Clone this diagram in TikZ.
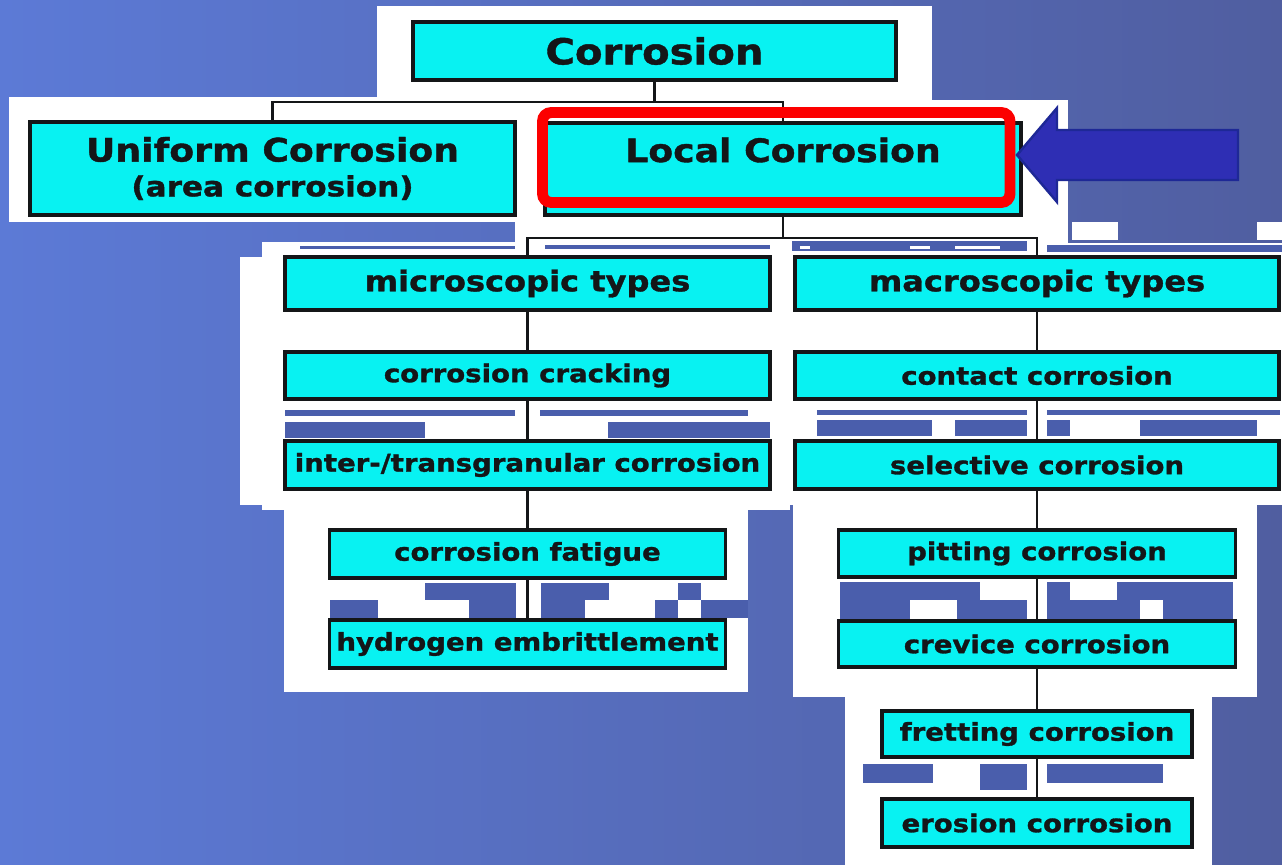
\documentclass[tikz,border=0pt]{standalone}
\usepackage{fontspec}
\newfontfamily\lbl{DejaVu Sans}[FakeStretch=1.12,FakeBold=1.2]
\definecolor{bgL}{RGB}{92,122,214}
\definecolor{bgR}{RGB}{80,94,160}
\definecolor{artc}{RGB}{74,94,172}
\definecolor{boxc}{RGB}{8,242,242}
\definecolor{ink}{RGB}{20,22,24}
\definecolor{arrf}{RGB}{46,46,180}
\definecolor{arrd}{RGB}{30,40,150}
\definecolor{redb}{RGB}{252,0,0}
\begin{document}
\begin{tikzpicture}[x=0.02cm,y=-0.02cm,
  cbox/.style={draw=ink, fill=boxc, line width=1.9pt, inner sep=0pt, text=ink,
    font=\lbl\bfseries\fontsize{14}{16}\selectfont},
  wh/.style 2 args={minimum width=#1*0.02cm, minimum height=#2*0.02cm},
  conn/.style={draw=ink, line width=1.4pt},
  wpanel/.style={fill=white},
  gap/.style={fill=artc}]
\useasboundingbox (0,0) rectangle (1282,865);
% background
\fill[left color=bgL, right color=bgR] (0,0) rectangle (1282,865);
% white panels behind the chart
\fill[wpanel] (377,6) rectangle (932,100);
\fill[wpanel] (9,97) rectangle (520,222);
\fill[wpanel] (515,100) rectangle (1068,250);
\fill[wpanel] (262,242) rectangle (790,510);
\fill[wpanel] (240,257) rectangle (300,505);
\fill[wpanel] (284,505) rectangle (748,692);
\fill[wpanel] (790,236) rectangle (1068,505);
\fill[wpanel] (1068,243) rectangle (1282,505);
\fill[wpanel] (1072,222) rectangle (1118,240);
\fill[wpanel] (1257,222) rectangle (1282,240);
\fill[wpanel] (793,505) rectangle (1257,697);
\fill[wpanel] (845,697) rectangle (1212,865);
% background showing through gaps
\fill[gap] (300,246) rectangle (515,249);
\fill[gap] (545,245) rectangle (770,249);
\fill[gap] (792,241) rectangle (1027,251);
\fill[gap] (1047,245) rectangle (1282,252);
\fill[wpanel] (800,246) rectangle (810,249);
\fill[wpanel] (910,246) rectangle (930,249);
\fill[wpanel] (955,246) rectangle (1000,249);
\fill[gap] (285,410) rectangle (515,416);
\fill[gap] (540,410) rectangle (748,416);
\fill[gap] (285,422) rectangle (425,438);
\fill[gap] (608,422) rectangle (770,438);
\fill[gap] (817,410) rectangle (1027,415);
\fill[gap] (1047,410) rectangle (1280,415);
\fill[gap] (817,420) rectangle (932,436);
\fill[gap] (955,420) rectangle (1027,436);
\fill[gap] (1047,420) rectangle (1070,436);
\fill[gap] (1140,420) rectangle (1257,436);
% fatigue / hydrogen gap
\fill[gap] (425,583) rectangle (516,600);
\fill[gap] (541,583) rectangle (609,600);
\fill[gap] (678,583) rectangle (701,600);
\fill[gap] (330,600) rectangle (378,618);
\fill[gap] (469,600) rectangle (516,618);
\fill[gap] (541,600) rectangle (585,618);
\fill[gap] (655,600) rectangle (678,618);
\fill[gap] (701,600) rectangle (748,618);
% pitting / crevice gap
\fill[gap] (840,582) rectangle (980,600);
\fill[gap] (1047,582) rectangle (1070,600);
\fill[gap] (1117,582) rectangle (1233,600);
\fill[gap] (840,600) rectangle (910,619);
\fill[gap] (957,600) rectangle (1027,619);
\fill[gap] (1047,600) rectangle (1140,619);
\fill[gap] (1163,600) rectangle (1233,619);
% fretting / erosion gap
\fill[gap] (863,764) rectangle (933,783);
\fill[gap] (980,764) rectangle (1027,790);
\fill[gap] (1047,764) rectangle (1163,783);

% boxes
\node[cbox, wh={483}{58}, font=\lbl\bfseries\fontsize{20.4}{22}\selectfont] (corr) at (654.5,51) {Corrosion};
\node[cbox, wh={485}{93}, align=center, font=\lbl\bfseries\fontsize{15.8}{19.8}\selectfont] (uni) at (272.5,168.5)
  {{\fontsize{18.4}{19.8}\selectfont Uniform Corrosion}\\(area corrosion)};
\node[cbox, wh={476}{92}, align=center, font=\lbl\bfseries\fontsize{15.8}{19.8}\selectfont] (loc) at (783,169)
  {{\fontsize{18.4}{19.8}\selectfont Local Corrosion}\\\phantom{(area corrosion)}};

\node[cbox, wh={485}{53}, font=\lbl\bfseries\fontsize{16.3}{18}\selectfont] (micro) at (527.5,283.5) {microscopic types};
\node[cbox, wh={485}{47}] (crack) at (527.5,375.5) {corrosion cracking};
\node[cbox, wh={485}{48}] (inter) at (527.5,465) {inter-/transgranular corrosion};
\node[cbox, wh={396}{48}] (fatig) at (527.5,554) {corrosion fatigue};
\node[cbox, wh={396}{48}] (hydro) at (527.5,644) {hydrogen embrittlement};

\node[cbox, wh={484}{53}, font=\lbl\bfseries\fontsize{16.3}{18}\selectfont] (macro) at (1037,283.5) {macroscopic types};
\node[cbox, wh={484}{47}] (cont) at (1037,375.5) {contact corrosion};
\node[cbox, wh={484}{48}] (sel) at (1037,465) {selective corrosion};
\node[cbox, wh={397}{47}] (pit) at (1037,553.5) {pitting corrosion};
\node[cbox, wh={397}{46}] (crev) at (1037,644) {crevice corrosion};
\node[cbox, wh={310}{46}] (fret) at (1037,734) {fretting corrosion};
\node[cbox, wh={310}{48}] (eros) at (1037,823) {erosion corrosion};

% connectors
\coordinate (j1) at (654.5,102);
\coordinate (j2) at (783,238);
\draw[conn] (corr.south) -- (j1);
\draw[conn] (uni.north) |- (j1) -| (loc.north);
\draw[conn] (loc.south) -- (j2);
\draw[conn] (micro.north) |- (j2) -| (macro.north);
\draw[conn] (micro.south) -- (crack.north);
\draw[conn] (crack.south) -- (inter.north);
\draw[conn] (inter.south) -- (fatig.north);
\draw[conn] (fatig.south) -- (hydro.north);
\draw[conn] (macro.south) -- (cont.north);
\draw[conn] (cont.south) -- (sel.north);
\draw[conn] (sel.south) -- (pit.north);
\draw[conn] (pit.south) -- (crev.north);
\draw[conn] (crev.south) -- (fret.north);
\draw[conn] (fret.south) -- (eros.north);

% red highlight
\node[draw=redb, line width=6.2pt, rounded corners=5pt, inner sep=0pt, wh={467.5}{90}] (hl) at (776.25,157.5) {};
% blue block arrow pointing at the highlight
\draw[fill=arrf, draw=arrd, line width=1.4pt, line join=miter]
  (1017,155) -- (1057,108) -- (1057,130) -- (1238,130) -- (1238,180) -- (1057,180) -- (1057,202) -- cycle;
\end{tikzpicture}
\end{document}
